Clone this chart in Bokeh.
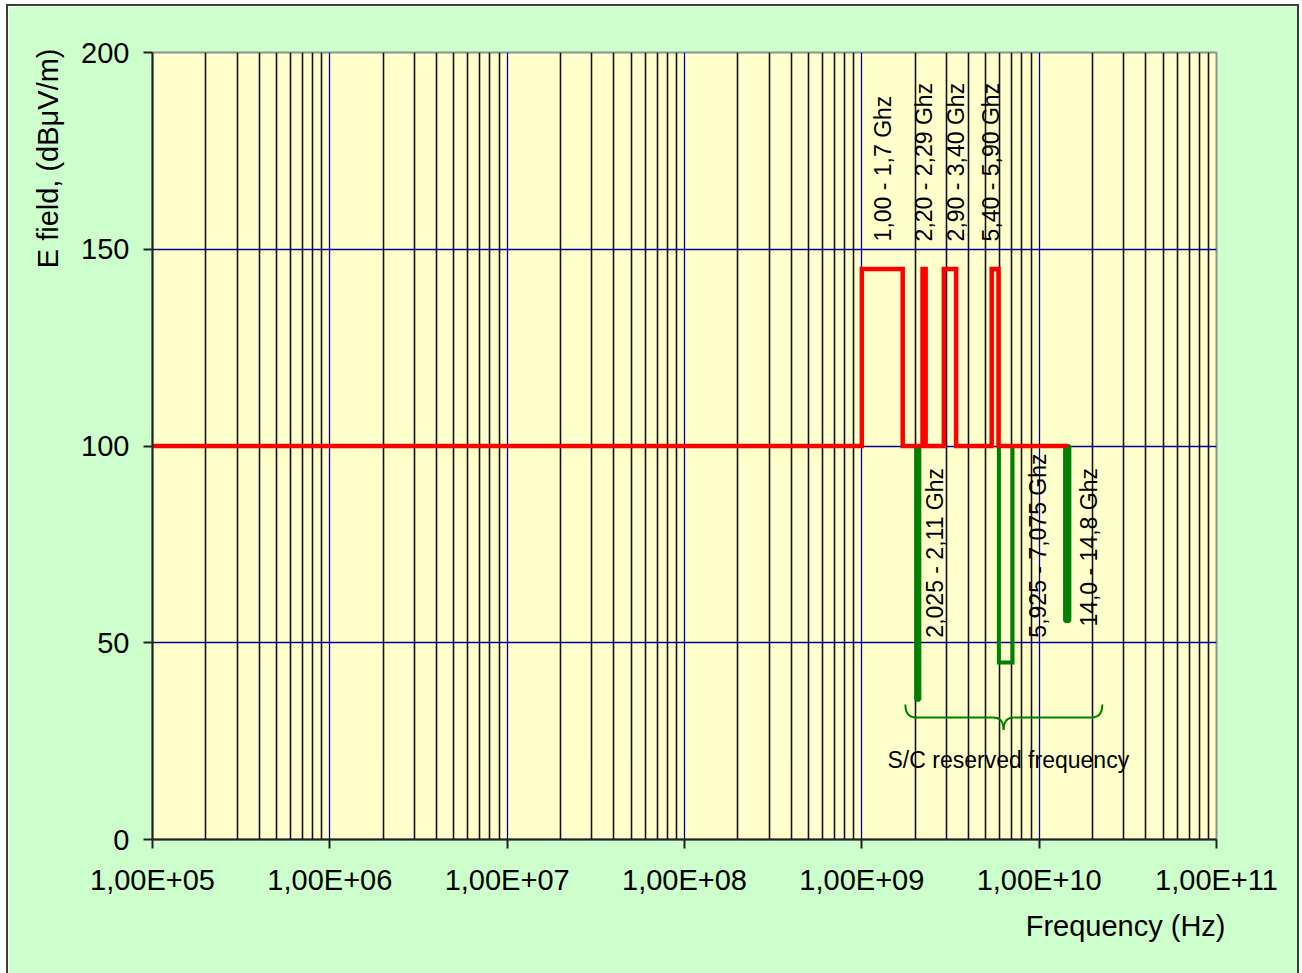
import numpy as np
from bokeh.plotting import figure
from bokeh.models import FixedTicker, Label, Range1d, Title
from bokeh.core.properties import value
from bokeh.embed import file_html
from bokeh.resources import INLINE

FONT = "Liberation Sans"

# ---------------- data ----------------
x_ticks = [1e5, 1e6, 1e7, 1e8, 1e9, 1e10, 1e11]
x_tick_labels = ["1,00E+05", "1,00E+06", "1,00E+07", "1,00E+08",
                 "1,00E+09", "1,00E+10", "1,00E+11"]
y_ticks = [0, 50, 100, 150, 200]

base_level = 100
start_freq = 1e5
end_freq = 1.45e10

red_band_lo = [1.00e9, 2.20e9, 2.90e9, 5.40e9]
red_band_hi = [1.70e9, 2.29e9, 3.40e9, 5.90e9]
red_level = 145
red_labels = ["1,00 - 1,7 Ghz", "2,20 - 2,29 Ghz", "2,90 - 3,40 Ghz", "5,40 - 5,90 Ghz"]
red_label_x = [1.31e9, 2.23e9, 3.38e9, 5.32e9]
red_label_y = [152, 152, 152, 152]

green_bar_lo = [2.025e9, 14.0e9]
green_bar_hi = [2.11e9, 14.8e9]
green_bar_bottom = [35.5, 55.5]
green_box_lo = 5.925e9
green_box_hi = 7.075e9
green_box_bottom = 45
green_labels = ["2,025 - 2,11 Ghz", "5,925 - 7,075 Ghz", "14,0 - 14,8 Ghz"]
green_label_x = [2.57e9, 9.8e9, 1.92e10]
green_label_y = [51.3, 51.3, 54.1]

brace_lo = 1.76e9
brace_hi = 2.27e10
brace_mid = 6.3e9
brace_top = 34.3
brace_line = 31.0
brace_tip = 27.9
brace_text = "S/C reserved frequency"
brace_text_x = 6.7e9
brace_text_y = 20.3

x_title = "Frequency (Hz)"
y_title = "E field, (dBμV/m)"

RED = "#FF0000"
GREEN = "#008000"
NAVY = "#000099"

# ---------------- figure ----------------
p = figure(width=1293, height=969, x_axis_type="log",
           x_range=Range1d(1e5, 1e11), y_range=Range1d(0, 200),
           output_backend="svg", toolbar_location=None,
           background_fill_color="#FFFFCC", border_fill_color="#CCFFCC",
           min_border_left=144, min_border_right=85,
           min_border_top=46, min_border_bottom=136)
p.styles = {"border": "2px solid #3c3c3c", "border-bottom": "none",
            "margin-left": "6px", "margin-top": "4px"}

p.outline_line_color = "#909090"
p.outline_line_width = 2

# axes
p.xaxis.ticker = FixedTicker(ticks=x_ticks)
p.xaxis.major_label_overrides = {t: l for t, l in zip(x_ticks, x_tick_labels)}
p.yaxis.ticker = FixedTicker(ticks=y_ticks)
for ax in (p.xaxis[0], p.yaxis[0]):
    ax.axis_line_color = "#222222"
    ax.axis_line_width = 2
    ax.major_tick_line_color = "#222222"
    ax.major_tick_line_width = 2
    ax.major_tick_out = 9
    ax.major_tick_in = 0
    ax.minor_tick_line_color = None
    ax.major_label_text_font = FONT
    ax.major_label_text_font_size = "29px"
    ax.major_label_text_color = "black"
p.xaxis.major_label_standoff = 15
p.yaxis.major_label_standoff = 14

# grids
minor = [m * 10.0 ** e for e in range(5, 11) for m in range(2, 10)]
p.xgrid.ticker = FixedTicker(ticks=x_ticks[1:-1], minor_ticks=minor)
p.xgrid.grid_line_color = NAVY
p.xgrid.grid_line_width = 1.3
p.xgrid.minor_grid_line_color = "#111111"
p.xgrid.minor_grid_line_width = 1.6
p.ygrid.ticker = FixedTicker(ticks=y_ticks[1:-1])
p.ygrid.grid_line_color = NAVY
p.ygrid.grid_line_width = 1.3

# green bars
p.quad(left=green_bar_lo, right=green_bar_hi, top=[base_level] * len(green_bar_lo),
       bottom=green_bar_bottom, fill_color=GREEN, line_color=GREEN, line_width=4)
# green box
p.line(x=[green_box_lo, green_box_lo, green_box_hi, green_box_hi],
       y=[base_level, green_box_bottom, green_box_bottom, base_level],
       line_color=GREEN, line_width=4, line_join="miter")

# red step line
rx = [start_freq]
ry = [base_level]
for lo, hi in zip(red_band_lo, red_band_hi):
    rx += [lo, lo, hi, hi]
    ry += [base_level, red_level, red_level, base_level]
rx.append(end_freq)
ry.append(base_level)
p.line(x=rx, y=ry, line_color=RED, line_width=4.5, line_join="miter")

# band labels
p.text(x=red_label_x, y=red_label_y, text=red_labels, angle=np.pi / 2,
       text_align="left", text_baseline="middle", text_font=value(FONT),
       text_font_size="23px", text_color="black")
p.text(x=green_label_x, y=green_label_y, text=green_labels, angle=np.pi / 2,
       text_align="left", text_baseline="middle", text_font=value(FONT),
       text_font_size="23px", text_color="black")

# brace (built in log space)
d = 0.06
L, H, M = np.log10(brace_lo), np.log10(brace_hi), np.log10(brace_mid)
segs = [
    (L, brace_top, L + d, brace_line, L, brace_line),
    (M - d, brace_line, M, brace_tip, M, brace_line),
    (M, brace_tip, M + d, brace_line, M, brace_line),
    (H - d, brace_line, H, brace_top, H, brace_line),
]
p.quadratic(x0=[10 ** s[0] for s in segs], y0=[s[1] for s in segs],
            x1=[10 ** s[2] for s in segs], y1=[s[3] for s in segs],
            cx=[10 ** s[4] for s in segs], cy=[s[5] for s in segs],
            line_color=GREEN, line_width=2)
p.segment(x0=[10 ** (L + d), 10 ** (M + d)], y0=[brace_line] * 2,
          x1=[10 ** (M - d), 10 ** (H - d)], y1=[brace_line] * 2,
          line_color=GREEN, line_width=2)

p.add_layout(Label(x=brace_text_x, y=brace_text_y, text=brace_text,
                   text_align="center", text_baseline="middle",
                   text_font=FONT, text_font_size="23px", text_color="black"))

# titles
p.add_layout(Title(text=x_title, align="right", offset=-9, standoff=19,
                   text_font=FONT, text_font_size="29px", text_font_style="normal",
                   text_color="black"), "below")
p.add_layout(Title(text=y_title, align="right", offset=-4, standoff=30,
                   text_font=FONT, text_font_size="29px", text_font_style="normal",
                   text_color="black"), "left")

open("out.html", "w").write(file_html(p, INLINE))
